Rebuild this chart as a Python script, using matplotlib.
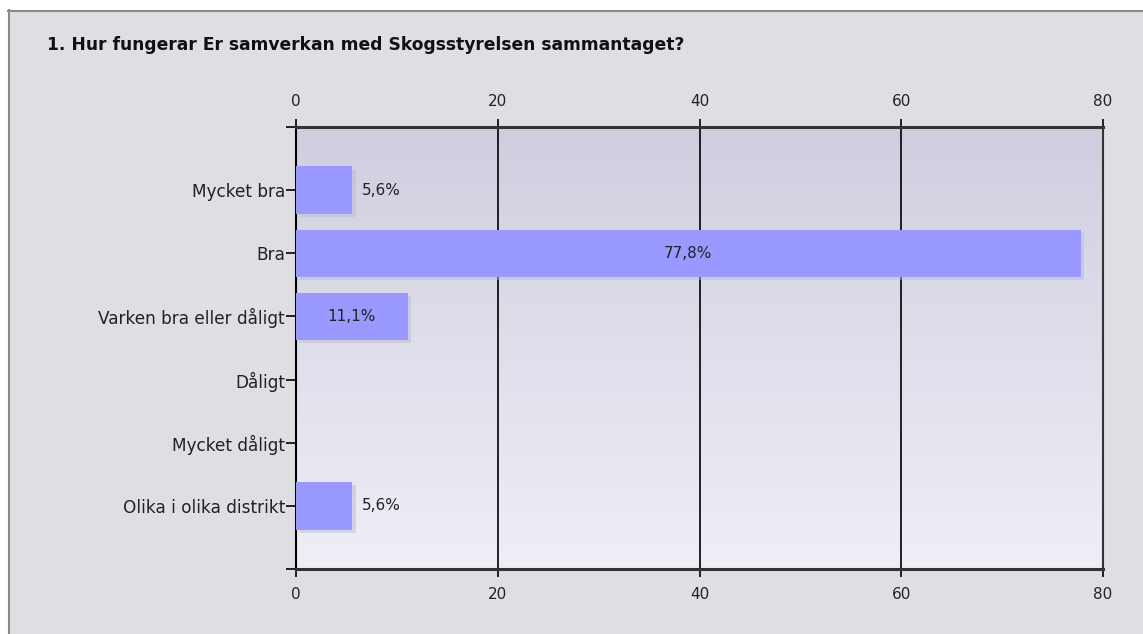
import matplotlib
matplotlib.use("Agg")
import matplotlib.pyplot as plt
import numpy as np
from matplotlib.patches import Rectangle
from matplotlib.colors import LinearSegmentedColormap

title = "1. Hur fungerar Er samverkan med Skogsstyrelsen sammantaget?"
categories = ["Mycket bra", "Bra", "Varken bra eller dåligt", "Dåligt", "Mycket dåligt", "Olika i olika distrikt"]
values = [5.6, 77.8, 11.1, 0.0, 0.0, 5.6]
labels = ["5,6%", "77,8%", "11,1%", "", "", "5,6%"]
xticks = [0, 20, 40, 60, 80]

W, H = 1143, 634
fig = plt.figure(figsize=(W / 100, H / 100), dpi=100)
fig.patch.set_facecolor("white")

# outer panel with border on left and top
panel_col = "#dfdee3"
fig.patches.append(Rectangle((8 / W, 0), 1 - 8 / W, 1 - 10 / H, transform=fig.transFigure,
                             facecolor=panel_col, edgecolor="none", zorder=-10))
l1 = plt.Line2D([8.5 / W, 8.5 / W], [0, 1 - 10 / H], transform=fig.transFigure,
                color="#8a8a8a", lw=1.5, zorder=-9)
l2 = plt.Line2D([8 / W, 1], [1 - 10.5 / H, 1 - 10.5 / H], transform=fig.transFigure,
                color="#8a8a8a", lw=1.5, zorder=-9)
fig.lines.extend([l1, l2])

fig.text(47 / W, 1 - 45 / H, title, fontsize=12.3, fontweight="bold", color="#111111",
         va="center", ha="left", family="DejaVu Sans")

left, right, top, bottom = 296, 1103, 127, 569
ax = fig.add_axes([left / W, 1 - bottom / H, (right - left) / W, (bottom - top) / H])
ax.set_xlim(0, 80)
n = len(categories)
ax.set_ylim(n + 1, 0)

# gradient background
grad = np.linspace(0, 1, 256).reshape(-1, 1)
cmap = LinearSegmentedColormap.from_list("bg", ["#cfcedf", "#efeff7"])
ax.imshow(grad, aspect="auto", cmap=cmap, extent=[0, 80, n + 1, 0], zorder=0)

ypos = np.arange(1, n + 1)
bh = 0.75
# shadow
ax.barh(ypos + 0.05, values, height=bh, left=0.3, color="#b8b8c4", alpha=0.45, zorder=2)
ax.barh(ypos, values, height=bh, color="#9999ff", zorder=3)

for y, v, lab in zip(ypos, values, labels):
    if not lab:
        continue
    if v >= 10:
        ax.text(v / 2, y, lab, ha="center", va="center", fontsize=11, color="#222222", zorder=4)
    else:
        ax.text(v + 0.9, y, lab, ha="left", va="center", fontsize=11, color="#222222", zorder=4)

for x in xticks[1:-1]:
    ax.axvline(x, color="black", lw=1.2, zorder=1)

ax.set_xticks(xticks)
ax.set_xticklabels([str(t) for t in xticks])
ax.tick_params(axis="x", which="both", top=True, labeltop=True, bottom=True, labelbottom=True,
               direction="out", length=6, width=1.2, color="black", labelsize=11, labelcolor="#222222", pad=7)
ax.set_yticks(list(range(0, n + 2)))
ax.set_yticklabels([""] + categories + [""])
ax.tick_params(axis="y", direction="out", length=7, width=1.2, color="black", labelsize=12.2,
               labelcolor="#222222", pad=1)

for s in ["top", "bottom"]:
    ax.spines[s].set_linewidth(2.2)
    ax.spines[s].set_color("#333333")
ax.spines["left"].set_linewidth(1.5)
ax.spines["left"].set_color("black")
ax.spines["right"].set_linewidth(1.5)
ax.spines["right"].set_color("#333333")

fig.savefig("out.png", dpi=100, facecolor=fig.get_facecolor())
